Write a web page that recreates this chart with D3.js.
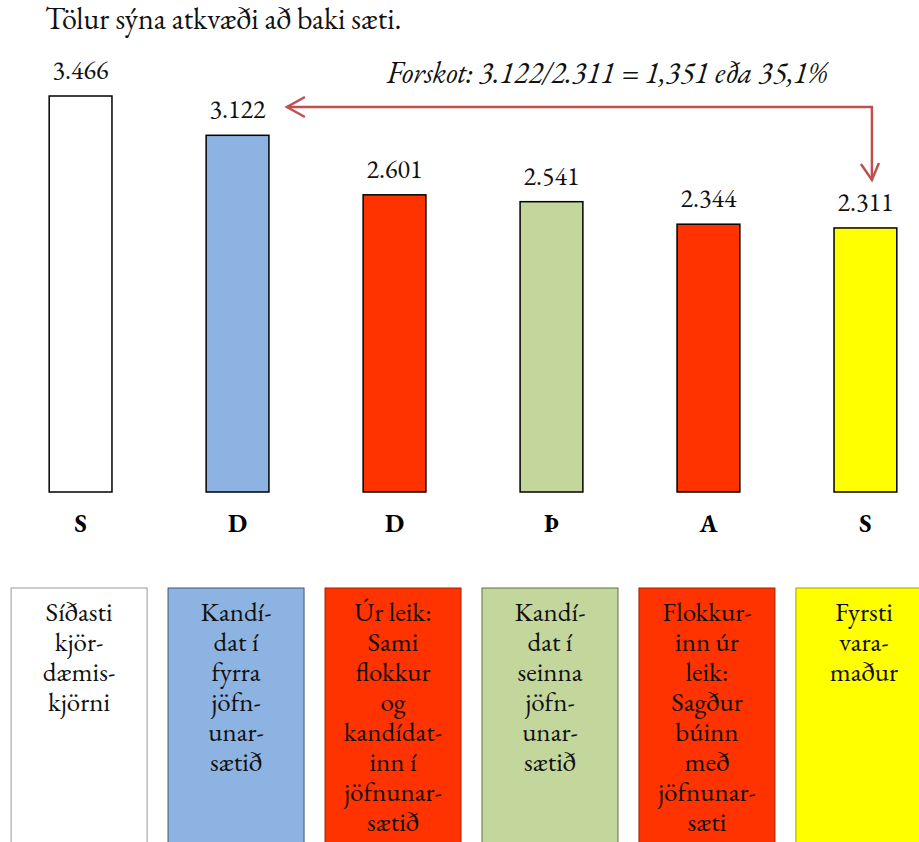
<!DOCTYPE html>
<html><head><meta charset="utf-8">
<script src="https://cdn.jsdelivr.net/npm/d3@7/dist/d3.min.js"></script>
<style>body{margin:0;background:#fff}svg{display:block}</style>
</head><body>
<script>
const parties = ["S","D","D","Þ","A","S"];
const votes = [3466, 3122, 2601, 2541, 2344, 2311];
const valueLabels = ["3.466","3.122","2.601","2.541","2.344","2.311"];
const fills = ["#ffffff","#8db3e2","#ff3300","#c3d69b","#ff3300","#ffff00"];
const boxStrokes = ["#9a9a9a","#3b5878","#a02000","#5f7040","#a02000","#a0a000"];
const descriptions = [
  ["Síðasti","kjör-","dæmis-","kjörni"],
  ["Kandí-","dat í","fyrra","jöfn-","unar-","sætið"],
  ["Úr leik:","Sami","flokkur","og","kandídat-","inn í","jöfnunar-","sætið"],
  ["Kandí-","dat í","seinna","jöfn-","unar-","sætið"],
  ["Flokkur-","inn úr","leik:","Sagður","búinn","með","jöfnunar-","sæti"],
  ["Fyrsti","vara-","maður"]
];
const title = "Tölur sýna atkvæði að baki sæti.";
const note = "Forskot: 3.122/2.311 = 1,351 eða 35,1%";
const fromIdx = 1, toIdx = 5;

const W = 919, H = 842;
const FF = "EB Garamond";
const svg = d3.select("body").append("svg").attr("width", W).attr("height", H);

const idx = d3.range(votes.length);
const x = d3.scaleBand().domain(idx).range([-45, 991]).paddingInner(0.6).paddingOuter(0.6);
const y = d3.scaleLinear().domain([0, 3466]).range([492, 96]);

svg.append("text").attr("x", 45).attr("y", 29).attr("font-family", FF).attr("font-size", 30).attr("fill", "#111").text(title);

svg.selectAll("rect.bar").data(idx).join("rect").attr("class","bar")
  .attr("x", i => x(i)).attr("width", x.bandwidth())
  .attr("y", i => y(votes[i])).attr("height", i => y(0) - y(votes[i]))
  .attr("fill", i => fills[i]).attr("stroke", "#000").attr("stroke-width", 1.5);

svg.selectAll("text.val").data(idx).join("text").attr("class","val")
  .attr("x", i => x(i) + x.bandwidth()/2).attr("y", i => y(votes[i]) - 17)
  .attr("text-anchor","middle").attr("font-family", FF).attr("font-size", 26).attr("fill","#111")
  .text(i => valueLabels[i]);

svg.selectAll("text.cat").data(idx).join("text").attr("class","cat")
  .attr("x", i => x(i) + x.bandwidth()/2).attr("y", 532)
  .attr("text-anchor","middle").attr("font-family", FF).attr("font-size", 25).attr("font-weight","bold").attr("fill","#000")
  .text(i => parties[i]);

svg.append("text").attr("x", 607).attr("y", 83).attr("text-anchor","middle").attr("font-family", FF)
  .attr("font-size", 30).attr("font-style","italic").attr("fill","#111").text(note);

const ac = "#c0504d";
const x1 = x(fromIdx) + x.bandwidth() + 18, yA = 107;
const x2 = x(toIdx) + x.bandwidth()/2 + 6.5, y2 = y(votes[toIdx]) - 48;
svg.append("path").attr("d", `M${x1},${yA} H${x2} V${y2}`)
  .attr("fill","none").attr("stroke", ac).attr("stroke-width", 2.5);
svg.append("path").attr("d", `M${x1+18},${yA-10} L${x1},${yA} L${x1+18},${yA+10}`)
  .attr("fill","none").attr("stroke", ac).attr("stroke-width", 2.5);
svg.append("path").attr("d", `M${x2-11},${y2-16} L${x2},${y2} L${x2+7},${y2-17}`)
  .attr("fill","none").attr("stroke", ac).attr("stroke-width", 2.5);

const bw = 136, boxTop = 588;
const g = svg.selectAll("g.box").data(idx).join("g").attr("class","box")
  .attr("transform", i => `translate(${x(i) + x.bandwidth()/2 - 1.5 - bw/2},${boxTop})`);
g.append("rect").attr("width", bw).attr("height", 300)
  .attr("fill", i => fills[i]).attr("stroke", i => boxStrokes[i]).attr("stroke-width", 1);
g.each(function(i){
  const t = d3.select(this).append("text").attr("text-anchor","middle").attr("font-family", FF)
    .attr("font-size", 27).attr("fill","#111");
  descriptions[i].forEach((line, k) => {
    t.append("tspan").attr("x", bw/2).attr("y", 33 + k*30).text(line);
  });
});
</script>
</body></html>
